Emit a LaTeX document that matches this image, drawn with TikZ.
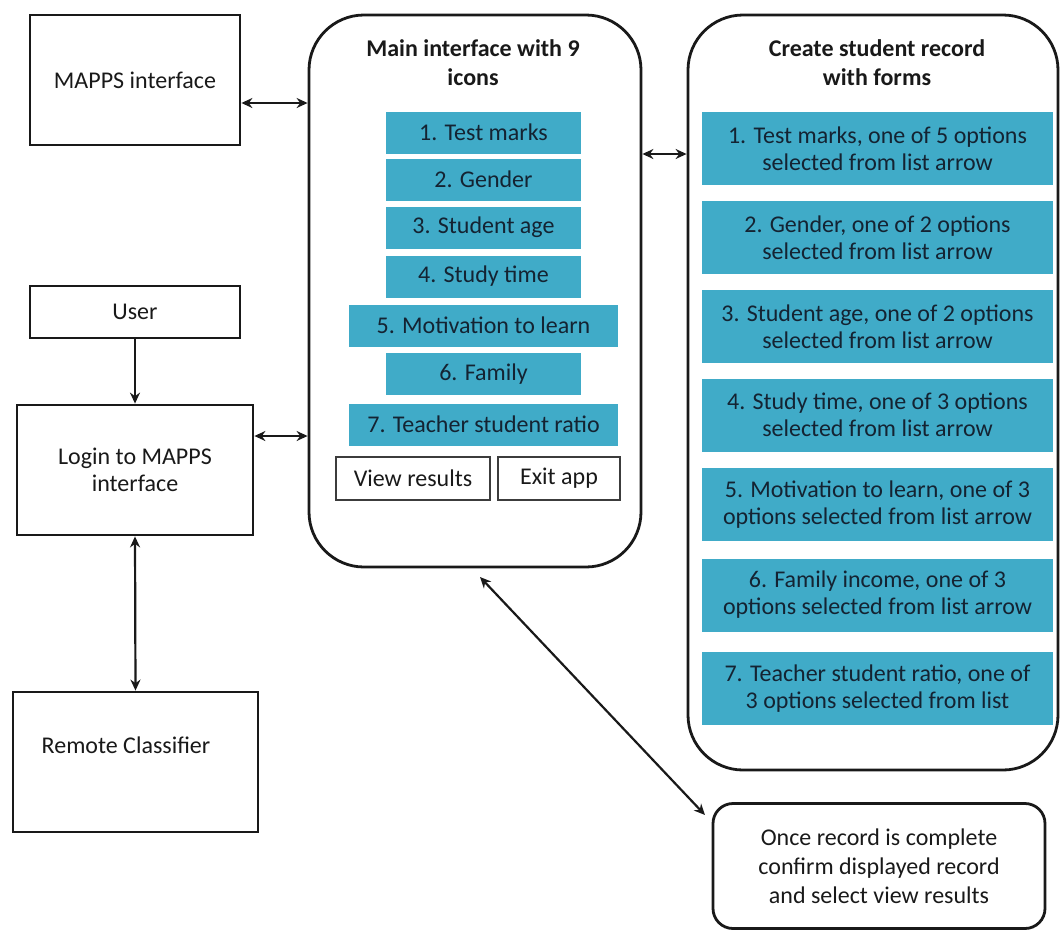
\documentclass[tikz,border=0pt]{standalone}
\usepackage{fontspec}
\setmainfont{Carlito}
\usetikzlibrary{arrows.meta}
\definecolor{tealbox}{RGB}{64,171,200}
\definecolor{ink}{RGB}{25,25,25}
\definecolor{deepink}{RGB}{20,35,50}
\begin{document}
\begin{tikzpicture}[x=1pt,y=-1pt,
  every node/.style={font=\fontsize{24}{27}\selectfont, text=ink, align=center, inner sep=0pt},
  plainbox/.style={draw=ink, line width=2.8pt, rectangle},
  panel/.style={draw=ink, line width=2.8pt, rectangle, rounded corners=55pt},
  icon/.style={fill=tealbox, rectangle, minimum height=42pt, text=deepink},
  form/.style={fill=tealbox, rectangle, minimum width=351pt, minimum height=73pt, text=deepink},
  btn/.style={draw=ink!85, line width=1.8pt, rectangle, minimum height=43pt},
  paneltitle/.style={font=\bfseries\fontsize{24}{29}\selectfont},
  link/.style={line width=2.2pt, draw=ink, >={Stealth[length=11pt,width=10pt]}}
]
\useasboundingbox (0,0) rectangle (1060,930);

% left column
\node[plainbox, minimum width=210pt, minimum height=130pt] (mapps) at (135,80) {MAPPS interface};
\node[plainbox, minimum width=210pt, minimum height=52pt] (user) at (135,312) {User};
\node[plainbox, minimum width=236pt, minimum height=130pt] (login) at (135,470) {Login to MAPPS\\interface};
\node[plainbox, minimum width=245pt, minimum height=140pt] (remote) at (135.5,762) {};
\node (remotetxt) at (126,745) {Remote Classifier};

% main interface panel
\node[panel, minimum width=332pt, minimum height=552pt] (main) at (475,291) {};
\node[paneltitle] (maintitle) at (473,63) {Main interface with 9\\icons};
\node[icon, minimum width=195pt] (m1) at (483.5,132.5) {1. Test marks};
\node[icon, minimum width=195pt] (m2) at (483.5,179.5) {2. Gender};
\node[icon, minimum width=195pt] (m3) at (483.5,227.5) {3. Student age};
\node[icon, minimum width=195pt] (m4) at (483.5,276.5) {4. Study time};
\node[icon, minimum width=269pt] (m5) at (483.5,325.5) {5. Motivation to learn};
\node[icon, minimum width=195pt] (m6) at (483.5,374) {6. Family};
\node[icon, minimum width=269pt] (m7) at (483.5,424.5) {7. Teacher student ratio};
\node[btn, minimum width=154pt] (view) at (413,478.5) {View results};
\node[btn, minimum width=122pt] (exit) at (559,478.5) {Exit app};

% record form panel
\node[panel, minimum width=370pt, minimum height=755pt] (forms) at (873,392.5) {};
\node[paneltitle] (formtitle) at (877,63) {Create student record\\with forms};
\node[form] (f1) at (877.5,148.5) {1. Test marks, one of 5 options\\selected from list arrow};
\node[form] (f2) at (877.5,237.5) {2. Gender, one of 2 options\\selected from list arrow};
\node[form] (f3) at (877.5,326.5) {3. Student age, one of 2 options\\selected from list arrow};
\node[form] (f4) at (877.5,415) {4. Study time, one of 3 options\\selected from list arrow};
\node[form] (f5) at (877.5,504.5) {5. Motivation to learn, one of 3\\options selected from list arrow};
\node[form] (f6) at (877.5,595) {6. Family income, one of 3\\options selected from list arrow};
\node[form] (f7) at (877.5,688.5) {7. Teacher student ratio, one of\\3 options selected from list};

% confirmation box
\node[draw=ink, line width=2.8pt, rectangle, rounded corners=20pt,
      minimum width=332pt, minimum height=125pt, font=\fontsize{24}{29}\selectfont] (confirm) at (879,866)
      {Once record is complete\\confirm displayed record\\and select view results};

% connectors
\draw[link, <->] (mapps.east |- 0,103) -- (main.west |- 0,103);
\draw[link, <->] (main.east |- 0,154) -- (forms.west |- 0,154);
\draw[link, <->] (login.east |- 0,436) -- (main.west |- 0,436);
\draw[link, ->] (user.south) -- (login.north);
\draw[link, <->] (login.south) -- (remote.north);
\coordinate (d1) at (480,577);
\coordinate (d2) at (705,815);
\draw[link, <->] (d1) -- (d2);
\end{tikzpicture}
\end{document}
